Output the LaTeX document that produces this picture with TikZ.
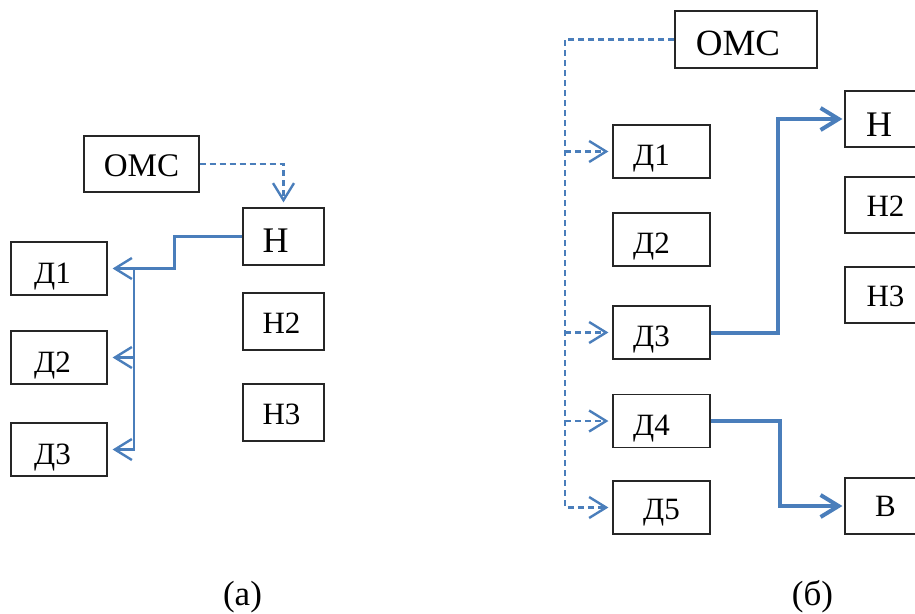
\documentclass[tikz,border=0pt]{standalone}
\usepackage{fontspec}
\setmainfont{Liberation Serif}
\usetikzlibrary{arrows.meta}
\definecolor{lblue}{HTML}{4A7EBB}
\newcommand{\fsz}[1]{\fontsize{#1}{#1}\selectfont}
\begin{document}
\begin{tikzpicture}[x=1pt,y=-1pt,
  box/.style={draw=black!85, line width=1.2pt, inner sep=0pt, font=\fsz{31}, text depth=0pt},
  bl/.style={text height=#1},
  dbox/.style={box, minimum width=96pt, minimum height=53pt},
  hbox/.style={box, minimum width=81pt, minimum height=57pt},
  rhbox/.style={box, minimum width=81pt, minimum height=56pt},
  tipA/.style={-{Straight Barb[length=17pt,width=21pt,line width=2.4pt]}},
  tipB/.style={-{Straight Barb[length=18pt,width=22pt,line width=4pt]}},
  dashA/.style={draw=lblue, line width=2.3pt, dash pattern=on 6pt off 4pt},
  solA/.style={draw=lblue, line width=2.6pt},
  solB/.style={draw=lblue, line width=4pt},
  dashB/.style={draw=lblue, line width=2.6pt, dash pattern=on 6pt off 4pt},
  captext/.style={font=\fsz{35}, inner sep=0pt}]
\useasboundingbox (0,0) rectangle (915,613);
\clip (0,0) rectangle (915,613);
% ---------- panel (a)
\node[box, bl=25pt, minimum width=115pt, minimum height=56pt, font=\fsz{33}] (omcA) at (141.5,164) {ОМС};
\node[hbox, bl=32pt, font=\fsz{36}] (hA) at (283.5,236.5) {\hspace*{-16pt}Н};
\node[hbox, bl=24pt] (h2A) at (283.5,321.5) {\hspace*{-4pt}Н2};
\node[hbox, bl=24pt] (h3A) at (283.5,412.5) {\hspace*{-4pt}Н3};
\node[dbox, bl=29pt] (d1A) at (59,268.5) {\hspace*{-13pt}Д1};
\node[dbox, bl=29pt] (d2A) at (59,357.5) {\hspace*{-13pt}Д2};
\node[dbox, bl=29pt] (d3A) at (59,449.5) {\hspace*{-13pt}Д3};
\draw[dashA, tipA, shorten >=5pt] (omcA.east) -| (hA.north);
\coordinate (tA) at (134,268.5);
\draw[solA, tipA, shorten >=5pt] (hA.west) -- ++(-68,0) |- (d1A.east);
\draw[solA, tipA, shorten >=5pt] (tA) |- (d2A.east);
\draw[solA, tipA, shorten >=5pt] (tA) |- (d3A.east);
% ---------- panel (b)
\node[box, bl=32pt, minimum width=142pt, minimum height=57pt, font=\fsz{37}] (omcB) at (746,39.5) {\hspace*{-16pt}ОМС};
\node[dbox, bl=28pt, minimum width=97pt] (d1B) at (661.5,151.5) {\hspace*{-20pt}Д1};
\node[dbox, bl=28pt, minimum width=97pt] (d2B) at (661.5,239.5) {\hspace*{-20pt}Д2};
\node[dbox, bl=28pt, minimum width=97pt] (d3B) at (661.5,332.5) {\hspace*{-20pt}Д3};
\node[dbox, bl=28pt, minimum width=97pt] (d4B) at (661.5,421) {\hspace*{-20pt}Д4};
\node[dbox, bl=23pt, minimum width=97pt] (d5B) at (661.5,507.5) {Д5};
\node[rhbox, bl=34pt, font=\fsz{36}] (hB) at (885.5,119) {\hspace*{-13pt}Н};
\node[rhbox, bl=22pt] (h2B) at (885.5,205) {Н2};
\node[rhbox, bl=22pt] (h3B) at (885.5,295) {Н3};
\node[rhbox, bl=21pt] (bB) at (885.5,506) {В};
\coordinate (trB) at (565,39.5);
\draw[dashB, tipA, shorten >=4pt] (omcB.west) -- (trB) |- (d5B.west);
\draw[dashB, tipA, shorten >=4pt] (trB |- d1B.west) -- (d1B.west);
\draw[dashB, tipA, shorten >=4pt] (trB |- d3B.west) -- (d3B.west);
\draw[dashB, tipA, shorten >=4pt] (trB |- d4B.west) -- (d4B.west);
\draw[solB, tipB, shorten >=2pt] (d3B.east) -- (778,332.5) |- (hB.west);
\draw[solB, tipB, shorten >=2pt] (d4B.east) -- (780,421) |- (bB.west);
% ---------- captions
\node[captext] (capA) at (242.5,597) {(а)};
\node[captext] (capB) at (812.5,597) {(б)};
\end{tikzpicture}
\end{document}
